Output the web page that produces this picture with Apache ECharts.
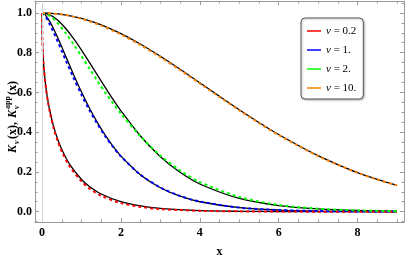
<!DOCTYPE html>
<html>
<head>
<meta charset="utf-8">
<script src="https://cdn.jsdelivr.net/npm/echarts@6.0.0/dist/echarts.min.js"></script>
<style>
html,body{margin:0;padding:0;background:#fff;}
#chart{width:407px;height:263px;}
</style>
</head>
<body>
<div id="chart"></div>
<script>
// ---- data ----
const nuLabels = ['0.2', '1.', '2.', '10.'];
const seriesColors = ['#FF0000', '#0000FF', '#00FF00', '#FF8000'];

// nu = 0.2
const x02 = [0, 0.002, 0.005, 0.01, 0.02, 0.05, 0.1, 0.15, 0.2, 0.3, 0.4, 0.5, 0.7, 1.0, 1.2, 1.5, 2, 2.5, 3, 4, 5, 6, 7, 8, 9];
const exact02 = [1, 0.920, 0.885, 0.848, 0.799, 0.711, 0.620, 0.555, 0.504, 0.423, 0.362, 0.313, 0.238, 0.162, 0.127, 0.089, 0.050, 0.0286, 0.0165, 0.0056, 0.0019, 0.0007, 0.0002, 0.0001, 0.0000];
const app02   = [1, 0.935, 0.895, 0.852, 0.800, 0.710, 0.616, 0.550, 0.498, 0.415, 0.353, 0.303, 0.228, 0.152, 0.117, 0.080, 0.043, 0.024, 0.013, 0.0045, 0.0015, 0.0005, 0.0001, 0.0000, 0.0000];

// nu = 1
const x1 = [0, 0.05, 0.1, 0.2, 0.3, 0.4, 0.5, 0.6, 0.8, 1.0, 1.2, 1.4, 1.6, 1.8, 2.0, 2.5, 3, 3.5, 4, 5, 6, 7, 8, 9];
const exact1 = [1, 0.9955, 0.9854, 0.9552, 0.9168, 0.8738, 0.8282, 0.7817, 0.6894, 0.6019, 0.5215, 0.4491, 0.3850, 0.3287, 0.2797, 0.1847, 0.1205, 0.0778, 0.0499, 0.0202, 0.0081, 0.0032, 0.0012, 0.0005];
const app1   = [1, 0.992, 0.978, 0.940, 0.899, 0.854, 0.808, 0.762, 0.672, 0.588, 0.511, 0.442, 0.380, 0.326, 0.278, 0.185, 0.122, 0.079, 0.051, 0.0205, 0.0082, 0.0032, 0.0012, 0.0005];

// nu = 2
const x2 = [0, 0.2, 0.4, 0.6, 0.8, 1.0, 1.2, 1.4, 1.6, 1.8, 2.0, 2.5, 3, 3.5, 4, 5, 6, 7, 8, 9];
const exact2 = [1, 0.9903, 0.9630, 0.9217, 0.8703, 0.8124, 0.7508, 0.6879, 0.6256, 0.5651, 0.5075, 0.3795, 0.2768, 0.1979, 0.1392, 0.0663, 0.0305, 0.0136, 0.0059, 0.0026];
const app2   = [1, 0.985, 0.948, 0.898, 0.842, 0.782, 0.720, 0.659, 0.600, 0.545, 0.493, 0.378, 0.282, 0.207, 0.149, 0.074, 0.034, 0.015, 0.0063, 0.0026];

// nu = 10
const x10 = [0, 0.5, 1, 1.5, 2, 2.5, 3, 3.5, 4, 4.5, 5, 5.5, 6, 6.5, 7, 7.5, 8, 8.5, 9];
const exact10 = [1, 0.9931, 0.9727, 0.9396, 0.8955, 0.8422, 0.7817, 0.7164, 0.6485, 0.5801, 0.5129, 0.449, 0.3880, 0.333, 0.2816, 0.237, 0.1968, 0.163, 0.1328];
const app10   = [1, 0.9925, 0.9700, 0.9360, 0.8915, 0.8380, 0.7775, 0.7125, 0.6450, 0.5770, 0.5100, 0.446, 0.3855, 0.331, 0.2800, 0.236, 0.1960, 0.162, 0.1325];

const xTickLabels = ['0', '2', '4', '6', '8'];
const yTickLabels = ['0.0', '0.2', '0.4', '0.6', '0.8', '1.0'];

// ---- build ----
const pairs = (xs, ys) => xs.map((x, i) => [x, ys[i]]);
const groups = [
  [x02, exact02, app02],
  [x1, exact1, app1],
  [x2, exact2, app2],
  [x10, exact10, app10]
];
const names = nuLabels.map(n => 'ν = ' + n);

const XMIN = -0.18, XMAX = 9.18, YMIN = -0.052, YMAX = 1.06;
const frameColor = '#9a9a9a';
const serif = 'Liberation Serif';

function near(v, list) {
  for (const s of list) { if (Math.abs(v - parseFloat(s)) < 1e-6) return s; }
  return '';
}

function xAx(pos, major, labels) {
  return {
    type: 'value', min: XMIN, max: XMAX, position: pos,
    splitNumber: major ? 5 : 19,
    axisLine: { show: major, onZero: false, lineStyle: { color: frameColor, width: 1 } },
    axisTick: { show: true, inside: true, length: major ? 4 : 2.5, lineStyle: { color: frameColor } },
    axisLabel: labels ? {
      show: true, formatter: v => near(v, xTickLabels), margin: 5,
      fontFamily: serif, fontWeight: 'bold', fontSize: 12, color: '#000'
    } : { show: false },
    splitLine: { show: false },
    name: labels ? 'x' : '', nameLocation: 'middle', nameGap: 24,
    nameTextStyle: { fontFamily: serif, fontWeight: 'bold', fontSize: 12, color: '#000' }
  };
}
function yAx(pos, major, labels) {
  return {
    type: 'value', min: YMIN, max: YMAX, position: pos,
    splitNumber: major ? 5 : 22,
    axisLine: { show: major, onZero: false, lineStyle: { color: frameColor, width: 1 } },
    axisTick: { show: true, inside: true, length: major ? 4 : 2.5, lineStyle: { color: frameColor } },
    axisLabel: labels ? {
      show: true, formatter: v => near(v, yTickLabels), margin: 3,
      fontFamily: serif, fontWeight: 'bold', fontSize: 12, color: '#000'
    } : { show: false },
    splitLine: { show: false }
  };
}

const series = [];
groups.forEach((g, i) => {
  series.push({
    name: 'exact' + i, type: 'line', data: pairs(g[0], g[1]),
    xAxisIndex: 0, yAxisIndex: 0,
    showSymbol: false, smooth: 0.3,
    lineStyle: { color: '#000', width: 1.3 }, itemStyle: { color: '#000' },
    z: 3, silent: true,
    markLine: i === 0 ? {
      silent: true, symbol: 'none', label: { show: false },
      lineStyle: { color: '#d4d4d4', width: 1, type: 'solid' },
      data: [{ xAxis: 0 }]
    } : undefined
  });
});
groups.forEach((g, i) => {
  series.push({
    name: names[i], type: 'line', data: pairs(g[0], g[2]),
    xAxisIndex: 0, yAxisIndex: 0,
    showSymbol: false, smooth: 0.3,
    color: seriesColors[i],
    lineStyle: { color: seriesColors[i], width: 2, type: [3, 3] },
    itemStyle: { color: seriesColors[i] },
    z: 4, silent: true
  });
});

const chart = echarts.init(document.getElementById('chart'), null, { renderer: 'canvas' });
chart.setOption({
  animation: false,
  backgroundColor: '#fff',
  grid: { left: 35, right: 1, top: 1, bottom: 33, containLabel: false },
  xAxis: [xAx('bottom', true, true), xAx('bottom', false, false), xAx('top', true, false), xAx('top', false, false)],
  yAxis: [yAx('left', true, true), yAx('left', false, false), yAx('right', true, false), yAx('right', false, false)],
  legend: {
    orient: 'vertical', left: 301, top: 18,
    data: names, icon: 'rect', itemWidth: 14, itemHeight: 1.5, itemGap: 5,
    padding: [6, 7, 4, 6],
    borderColor: '#555', borderWidth: 1, borderRadius: 4, backgroundColor: '#fff',
    shadowColor: 'rgba(0,0,0,0.25)', shadowBlur: 2, shadowOffsetX: 1, shadowOffsetY: 1,
    formatter: n => '{i|ν}{t|' + n.slice(1) + '}',
    textStyle: {
      fontFamily: serif, fontSize: 11, color: '#000', lineHeight: 14,
      rich: {
        i: { fontFamily: serif, fontStyle: 'italic', fontSize: 11, color: '#000' },
        t: { fontFamily: serif, fontSize: 11, color: '#000' }
      }
    },
    selectedMode: false
  },
  graphic: [{
    type: 'group', x: 13, y: 116, rotation: Math.PI / 2,
    children: [
      { type: 'text', x: -37, y: 0, style: { text: 'K', font: 'italic bold 12px "Liberation Serif"', fill: '#000', verticalAlign: 'middle' } },
      { type: 'text', x: -28, y: 4, style: { text: 'ν', font: 'italic bold 8px "Liberation Serif"', fill: '#000', verticalAlign: 'middle' } },
      { type: 'text', x: -23, y: 0, style: { text: '(x),', font: 'bold 12px "Liberation Serif"', fill: '#000', verticalAlign: 'middle' } },
      { type: 'text', x: -2, y: 0, style: { text: 'K', font: 'italic bold 12px "Liberation Serif"', fill: '#000', verticalAlign: 'middle' } },
      { type: 'text', x: 7, y: -5, style: { text: 'app', font: 'bold 8px "Liberation Serif"', fill: '#000', verticalAlign: 'middle' } },
      { type: 'text', x: 7, y: 4, style: { text: 'ν', font: 'italic bold 8px "Liberation Serif"', fill: '#000', verticalAlign: 'middle' } },
      { type: 'text', x: 21, y: 0, style: { text: '(x)', font: 'bold 12px "Liberation Serif"', fill: '#000', verticalAlign: 'middle' } }
    ]
  }],
  series: series
});
</script>
</body>
</html>
